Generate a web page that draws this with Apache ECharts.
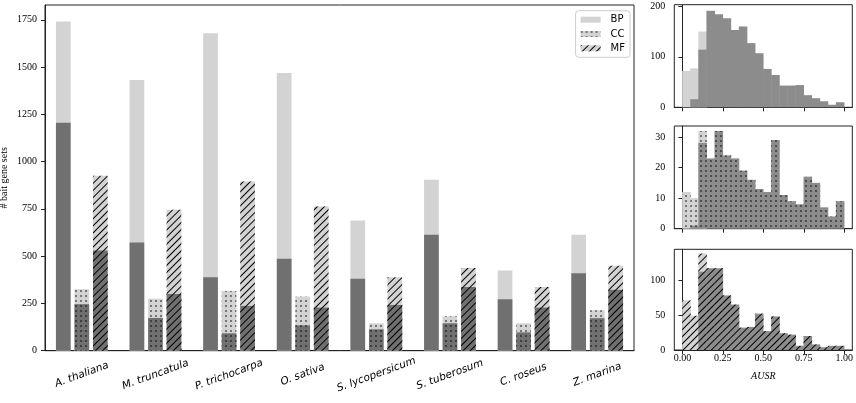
<!DOCTYPE html>
<html><head><meta charset="utf-8">
<script src="https://cdn.jsdelivr.net/npm/echarts@6/dist/echarts.min.js"></script>
<style>html,body{margin:0;padding:0;background:#fff}#c{width:856px;height:403px}</style>
</head><body><div id="c"></div><script>
// ---- main bar chart data ----
const categories = ['A. thaliana','M. truncatula','P. trichocarpa','O. sativa','S. lycopersicum','S. tuberosum','C. roseus','Z. marina'];
const bpTotal = [1741,1432,1679,1469,689,904,424,613];
const bpDark  = [1206,572,389,486,380,613,272,410];
const ccTotal = [325,275,316,286,145,182,145,214];
const ccDark  = [246,173,92,134,113,145,97,172];
const mfTotal = [925,745,895,763,389,437,337,449];
const mfDark  = [530,300,237,228,242,337,228,322];
const mainTicks = [0,250,500,750,1000,1250,1500,1750];

// ---- histogram data (bins of width 0.05 on AUSR) ----
const binCenters = [0.025,0.075,0.125,0.175,0.225,0.275,0.325,0.375,0.425,0.475,0.525,0.575,0.625,0.675,0.725,0.775,0.825,0.875,0.925,0.975];
const bpHistBg   = [72,77,150];
const bpHistFg   = [0,16,114,191,184,176,153,160,127,107,76,64,43,43,44,24,18,12,5,10];
const ccHistBg   = [12,10,32];
const ccHistFg   = [0,1,28,23,32,24,23,19,16,13,12,29,11,9,8,17,15,7,4,9];
const mfHistBg   = [71,49,138];
const mfHistFg   = [0,0,112,117,117,78,65,32,33,52,27,48,24,22,6,20,8,4,6,6];
const histXTicks = [0,0.25,0.5,0.75,1.0];
const bpHistTicks = [0,100,200];
const ccHistTicks = [0,10,20,30];
const mfHistTicks = [0,50,100];

const LIGHT = '#d3d3d3', DARK = '#707070', HDARK = '#8c8c8c';
const SERIF = 'Liberation Serif', SANS = 'DejaVu Sans';
const dots = {symbol:'circle', symbolSize:0.8, dashArrayX:[2,3], dashArrayY:[2,3], color:'#000', rotation:0};
const hatch = {symbol:'rect', symbolSize:1, dashArrayX:[1,0], dashArrayY:[1,3.2], color:'#000', rotation:-Math.PI/4};

const chart = echarts.init(document.getElementById('c'), null, {renderer:'canvas'});

const mainGrid = {left:45, top:5, width:589, height:345.7};
const hx = 674.3, hw = 178;
const histGrids = [
  {left:hx, top:4.7, width:hw, height:102.6},
  {left:hx, top:126, width:hw, height:102.7},
  {left:hx, top:249.3, width:hw, height:100.7}
];
const grids = [mainGrid].concat(histGrids).map(g => Object.assign({show:true, borderColor:'#222', borderWidth:1, backgroundColor:'transparent', outerBoundsMode:'none'}, g));

const histBarW = hw * 0.05 / 1.1 + 0.5;
const axisLineStyle = {lineStyle:{color:'#222', width:1}};
const plain = v => String(v);

const xAxes = [
  {type:'category', gridIndex:0, data:categories, axisLine:axisLineStyle,
   axisTick:{alignWithLabel:true, length:4, lineStyle:{color:'#222'}},
   axisLabel:{rotate:20, align:'center', verticalAlign:'middle', margin:24, fontFamily:SANS, fontStyle:'italic', fontSize:10.5, color:'#000', interval:0}},
  {type:'category', gridIndex:0, data:categories, show:false}
];
const yAxes = [
  {type:'value', gridIndex:0, min:0, max:1828, name:'# bait gene sets', nameLocation:'middle', nameGap:36, nameMoveOverlap:false,
   nameTextStyle:{fontFamily:SERIF, fontSize:10, color:'#000'},
   axisLine:Object.assign({show:true}, axisLineStyle),
   axisTick:{show:true, length:4, customValues:mainTicks, lineStyle:{color:'#222'}},
   axisLabel:{customValues:mainTicks, formatter:plain, margin:8, fontFamily:SERIF, fontSize:10, color:'#000'},
   splitLine:{show:false}}
];
const histMax = [203, 33.6, 144];
const histTicks = [bpHistTicks, ccHistTicks, mfHistTicks];
for (let k=0;k<3;k++){
  xAxes.push({type:'value', gridIndex:k+1, min:-0.05, max:1.05,
    axisLine:axisLineStyle,
    axisTick:{show:true, length:4, customValues:histXTicks, lineStyle:{color:'#222'}},
    axisLabel:{show:k===2, customValues:histXTicks, margin:3, fontFamily:SERIF, fontSize:10, color:'#000',
      formatter:v=>v.toFixed(2)},
    splitLine:{show:false},
    name:k===2?'AUSR':'', nameLocation:'middle', nameGap:21, nameMoveOverlap:false,
    nameTextStyle:{fontFamily:SERIF, fontStyle:'italic', fontSize:10, color:'#000'}});
  yAxes.push({type:'value', gridIndex:k+1, min:0, max:histMax[k],
    axisLine:Object.assign({show:true}, axisLineStyle),
    axisTick:{show:true, length:4, customValues:histTicks[k], lineStyle:{color:'#222'}},
    axisLabel:{customValues:histTicks[k], formatter:plain, margin:9, fontFamily:SERIF, fontSize:10, color:'#000'},
    splitLine:{show:false}});
}

function mainBar(name, axis, data, color, decal){
  return {type:'bar', name, xAxisIndex:axis, yAxisIndex:0, data, barWidth:14.7, barGap:'26%',
    itemStyle:{color, decal}, emphasis:{disabled:true}, animation:false};
}
function histBar(name, k, vals, color, decal){
  const d = [];
  vals.forEach((v,i)=>{ if (v) d.push([binCenters[i], v]); });
  return {type:'bar', name, xAxisIndex:k+2, yAxisIndex:k+1, data:d, barWidth:histBarW, barGap:'-100%',
    itemStyle:{color, decal}, emphasis:{disabled:true}, animation:false};
}

const series = [
  mainBar('BP', 0, bpTotal, LIGHT, null),
  mainBar('CC', 0, ccTotal, LIGHT, dots),
  mainBar('MF', 0, mfTotal, LIGHT, hatch),
  mainBar('BP-s', 1, bpDark, DARK, null),
  mainBar('CC-s', 1, ccDark, DARK, dots),
  mainBar('MF-s', 1, mfDark, DARK, hatch),
  histBar('BP-h0', 0, bpHistBg, LIGHT, null),
  histBar('BP-h1', 0, bpHistFg, HDARK, null),
  histBar('CC-h0', 1, ccHistBg, LIGHT, dots),
  histBar('CC-h1', 1, ccHistFg, HDARK, dots),
  histBar('MF-h0', 2, mfHistBg, LIGHT, hatch),
  histBar('MF-h1', 2, mfHistFg, HDARK, hatch)
];

chart.setOption({
  animation:false,
  grid:grids,
  xAxis:xAxes,
  yAxis:yAxes,
  legend:{data:['BP','CC','MF'], orient:'vertical', right:226, top:10.7, itemWidth:20, itemHeight:6, itemGap:2.3,
    padding:[3,5,3,5], borderColor:'#cccccc', borderWidth:1, borderRadius:3, backgroundColor:'rgba(255,255,255,0.8)',
    icon:'rect', selectedMode:false,
    textStyle:{fontFamily:SANS, fontSize:10, color:'#000', lineHeight:12, padding:[0,0,0,5]}},
  series
});
</script></body></html>
